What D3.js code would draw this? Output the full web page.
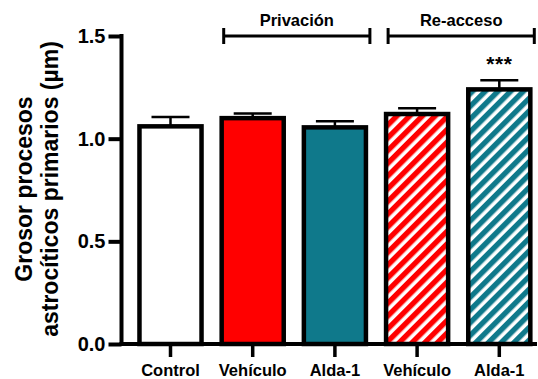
<!DOCTYPE html>
<html>
<head>
<meta charset="utf-8">
<script src="https://cdn.jsdelivr.net/npm/d3@7"></script>
<style>
  html, body { margin: 0; padding: 0; background: #fff; }
  svg { display: block; font-family: "Liberation Sans", Arial, Helvetica, sans-serif; font-weight: bold; }
</style>
</head>
<body>
<svg id="chart" width="538" height="379"></svg>
<script>
// Grosor de procesos astrocíticos primarios (µm), media ± SEM
const categories = ["Control", "Vehículo", "Alda-1", "Vehículo ", "Alda-1 "];
const labels = ["Control", "Vehículo", "Alda-1", "Vehículo", "Alda-1"];
const values = [1.06, 1.10, 1.055, 1.12, 1.24];
const sem = [0.045, 0.022, 0.03, 0.028, 0.045];
const fills = ["#ffffff", "#ff0000", "#0f798b", "hatch-red", "hatch-teal"];
const yTicks = [0.0, 0.5, 1.0, 1.5];
const groups = [
  { name: "Privación", from: 1, to: 2 },
  { name: "Re-acceso", from: 3, to: 4 }
];
const significance = [{ index: 4, text: "***" }];

const svg = d3.select("#chart");

const y = d3.scaleLinear().domain([0, 1.5]).range([344, 36]);
const x = d3.scaleBand()
  .domain(categories)
  .range([129.4, 540.4])
  .paddingInner(0.245)
  .paddingOuter(0.1225);

// diagonal stripe patterns
const defs = svg.append("defs");
function hatch(id, color) {
  const p = defs.append("pattern")
    .attr("id", id)
    .attr("patternUnits", "userSpaceOnUse")
    .attr("width", 9)
    .attr("height", 9)
    .attr("patternTransform", "rotate(45)");
  p.append("rect").attr("width", 9).attr("height", 9).attr("fill", "#fff");
  p.append("rect").attr("x", 0).attr("width", 5.4).attr("height", 9).attr("fill", color);
}
hatch("hatch-red", "#ff0000");
hatch("hatch-teal", "#0f798b");

const fillOf = f => f.startsWith("hatch") ? `url(#${f})` : f;

// error bars (upper whisker only)
const eb = svg.append("g").attr("stroke", "#000").attr("stroke-width", 2.5);
categories.forEach((c, i) => {
  const cx = x(c) + x.bandwidth() / 2;
  eb.append("line")
    .attr("x1", cx).attr("x2", cx)
    .attr("y1", y(values[i])).attr("y2", y(values[i] + sem[i]));
  eb.append("line")
    .attr("x1", cx - 19).attr("x2", cx + 19)
    .attr("y1", y(values[i] + sem[i])).attr("y2", y(values[i] + sem[i]));
});

// bars
svg.append("g").selectAll("rect")
  .data(categories)
  .join("rect")
  .attr("x", d => x(d))
  .attr("width", x.bandwidth())
  .attr("y", (d, i) => y(values[i]))
  .attr("height", (d, i) => y(0) - y(values[i]))
  .attr("fill", (d, i) => fillOf(fills[i]))
  .attr("stroke", "#000")
  .attr("stroke-width", 4.5);

// y axis
const yAxis = svg.append("g")
  .attr("transform", "translate(121.5,0)")
  .call(d3.axisLeft(y).tickValues(yTicks).tickFormat(d3.format(".1f")).tickSize(13).tickSizeOuter(0).tickPadding(3));
yAxis.select(".domain").attr("stroke-width", 4).attr("d", `M0,${y(1.5) - 2}V${y(0) + 2}`);
yAxis.selectAll(".tick line").attr("stroke-width", 4);
yAxis.selectAll(".tick text")
  .attr("font-size", 20).attr("font-weight", "bold").attr("fill", "#000")
  .attr("font-family", "Liberation Sans, Arial, sans-serif");

// x axis
const xAxis = svg.append("g")
  .attr("transform", `translate(0,${y(0)})`)
  .call(d3.axisBottom(x).tickSize(13).tickSizeOuter(0).tickPadding(6)
    .tickFormat((d, i) => labels[i]));
xAxis.select(".domain").attr("stroke-width", 4).attr("d", "M119.5,0H537");
xAxis.selectAll(".tick line").attr("stroke-width", 3.5);
xAxis.selectAll(".tick text")
  .attr("font-size", 16.5).attr("font-weight", "bold").attr("fill", "#000")
  .attr("font-family", "Liberation Sans, Arial, sans-serif")
  .attr("dy", null).attr("y", 32);

// y axis title, two lines
const title = svg.append("text")
  .attr("transform", "translate(32,189) rotate(-90)")
  .attr("text-anchor", "middle")
  .attr("font-size", 23)
  .attr("fill", "#000");
title.append("tspan").attr("x", 0).attr("y", 0).text("Grosor procesos");
title.append("tspan").attr("x", 0).attr("y", 26).text("astrocíticos primarios (µm)");

// group brackets
groups.forEach(g => {
  const x1 = x(categories[g.from]) + x.bandwidth() / 2 - 29;
  const x2 = x(categories[g.to]) + x.bandwidth() / 2 + 35;
  const gy = 36;
  const br = svg.append("g").attr("stroke", "#000").attr("stroke-width", 3);
  br.append("line").attr("x1", x1).attr("x2", x2).attr("y1", gy).attr("y2", gy);
  br.append("line").attr("x1", x1).attr("x2", x1).attr("y1", gy - 8).attr("y2", gy + 8);
  br.append("line").attr("x1", x2).attr("x2", x2).attr("y1", gy - 8).attr("y2", gy + 8);
  svg.append("text")
    .attr("x", (x1 + x2) / 2)
    .attr("y", 26)
    .attr("text-anchor", "middle")
    .attr("font-size", 16.5)
    .attr("fill", "#000")
    .text(g.name);
});

// significance marks
significance.forEach(s => {
  const cx = x(categories[s.index]) + x.bandwidth() / 2;
  svg.append("text")
    .attr("x", cx)
    .attr("y", y(values[s.index] + sem[s.index]))
    .attr("dy", -9)
    .attr("text-anchor", "middle")
    .attr("font-size", 21)
    .attr("letter-spacing", 0.5)
    .attr("fill", "#000")
    .text(s.text);
});
</script>
</body>
</html>
